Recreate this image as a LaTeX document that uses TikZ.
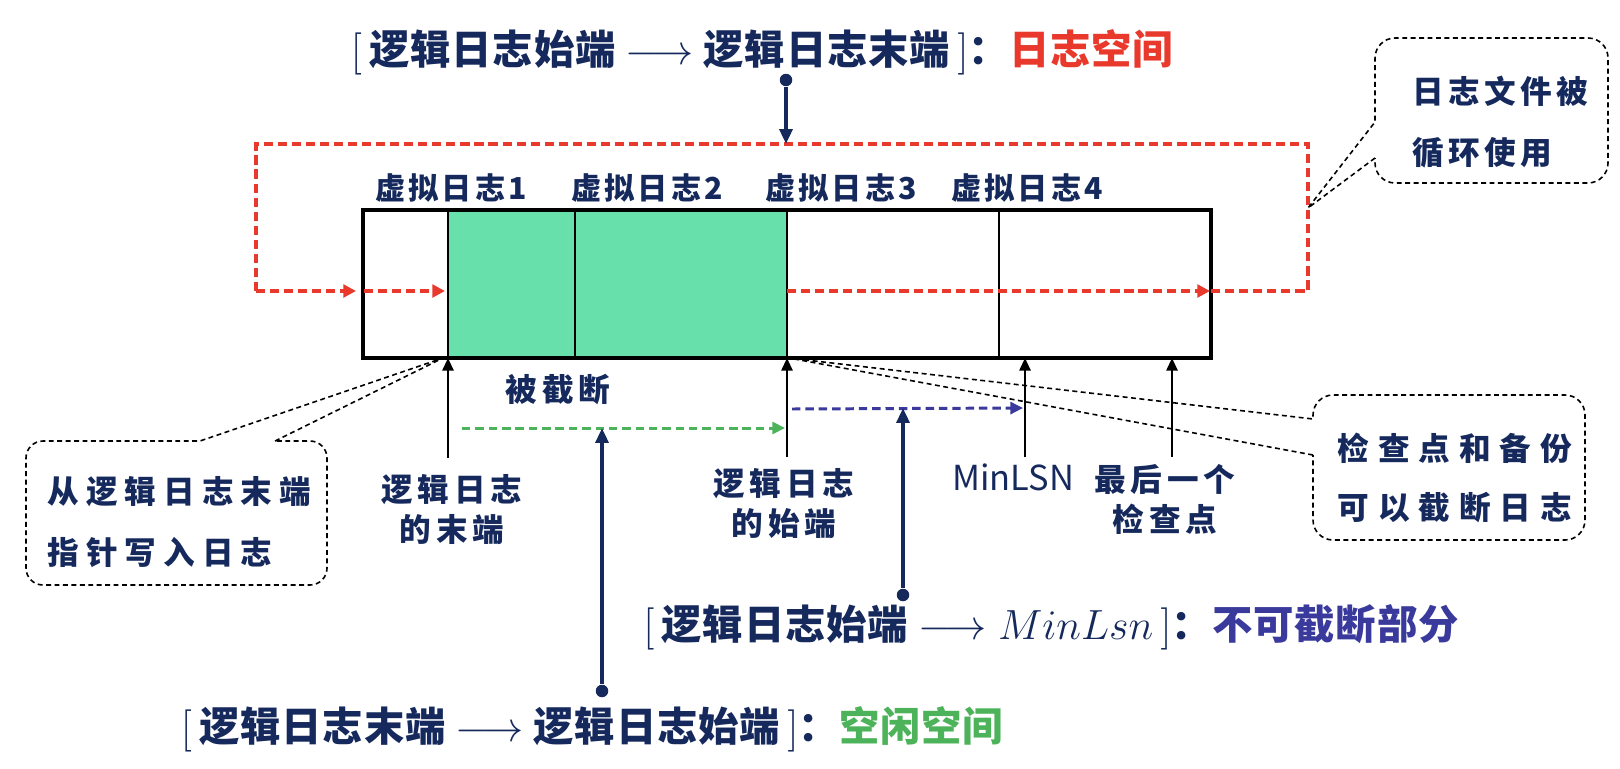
\documentclass[tikz,border=0pt]{standalone}
\usepackage{fontspec}
\setmainfont{Noto Sans CJK SC}
\usetikzlibrary{arrows.meta,positioning}
\definecolor{LogNavy}{HTML}{15295C}
\definecolor{LogRed}{HTML}{E8392C}
\definecolor{LogFill}{HTML}{68E0AC}
\definecolor{LogGreen}{HTML}{4DB35A}
\definecolor{LogIndigo}{HTML}{3A3A9C}

\begin{document}
\begin{tikzpicture}[
  every node/.style={text=LogNavy, inner sep=0pt},
  smalltext/.style={font=\bfseries\fontsize{9}{11.4}\selectfont\addfontfeature{LetterSpace=15}, align=center},
  calltext/.style={font=\bfseries\fontsize{9}{17.2}\selectfont\addfontfeature{LetterSpace=22}, align=left, anchor=west},
  rangetext/.style={font=\bfseries\fontsize{11.5}{14}\selectfont\addfontfeature{LetterSpace=2}},
  divider/.style={draw=black, line width=0.6pt},
  loopline/.style={draw=LogRed, line width=1pt, dash pattern=on 2.6pt off 1.4pt},
  looparrow/.style={loopline, -{Triangle[length=3.6pt,width=3.6pt]}},
  freearrow/.style={draw=LogGreen, line width=0.85pt, dash pattern=on 2.4pt off 1.4pt, -{Triangle[length=3.6pt,width=3.4pt]}},
  busyarrow/.style={draw=LogIndigo, line width=0.85pt, dash pattern=on 2.4pt off 1.4pt, -{Triangle[length=3.6pt,width=3.4pt]}},
  thinarrow/.style={draw=black, line width=0.6pt, -{Triangle[length=3.6pt,width=3.2pt]}},
  pin/.style={draw=LogNavy, line width=1.1pt, -{Triangle[length=4.2pt,width=3.6pt]}},
  pindot/.style={circle, fill=LogNavy, minimum size=0.125cm},
  callout/.style={draw=black, line width=0.45pt, dash pattern=on 1.4pt off 1pt},
]
\useasboundingbox (0,0) rectangle (16.2,-7.68);

% ============ log file strip ============
\fill[LogFill] (4.48,-2.10) rectangle (7.87,-3.58);
\foreach \x in {4.48,5.75,7.87,9.99}{
  \draw[divider] (\x,-2.10) -- (\x,-3.58);
}
\draw[line width=0.95pt] (3.63,-2.10) rectangle (12.11,-3.58);

\foreach \x/\k in {4.51/1,6.47/2,8.41/3,10.27/4}{
  \node[smalltext, font=\bfseries\fontsize{8.6}{10}\selectfont\addfontfeature{LetterSpace=10}] (vlog\k) at (\x,-1.88) {虚拟日志\k};
}

% points on the strip
\coordinate (tail) at (4.48,-3.58);
\coordinate (head) at (7.87,-3.58);
\coordinate (minlsn) at (10.25,-3.58);
\coordinate (ckpt) at (11.72,-3.58);
\coordinate (loopTop) at (7.86,-1.44);
\coordinate (loopRight) at (13.08,-2.08);

% ============ circular use (red loop) ============
\draw[loopline] (12.11,-2.91) -- (13.08,-2.91) -- (13.08,-1.44) -- (2.56,-1.44) -- (2.56,-2.91);
\draw[looparrow] (2.56,-2.91) -- (3.56,-2.91);
\draw[looparrow] (3.64,-2.91) -- (4.45,-2.91);
\draw[looparrow] (7.87,-2.91) -- (12.10,-2.91);

% ============ pointers below the strip ============
\node[smalltext] (trunc) at (5.58,-3.90) {被截断};

\node[smalltext, below=1.16cm of tail, xshift=0.04cm] (tailLbl) {逻辑日志\\的末端};
\node[smalltext, below=1.10cm of head, xshift=-0.03cm] (headLbl) {逻辑日志\\的始端};
\node[below=1.05cm of minlsn, xshift=-0.12cm, font=\fontsize{9.8}{12}\selectfont] (minLbl) {MinLSN};
\node[smalltext, below=1.06cm of ckpt, xshift=-0.07cm] (ckptLbl) {最后一个\\检查点};

\draw[thinarrow] (tail |- 0,-4.58) -- (tail);
\draw[thinarrow] (head |- 0,-4.57) -- (head);
\draw[thinarrow] (minlsn |- 0,-4.57) -- (minlsn);
\draw[thinarrow] (ckpt |- 0,-4.57) -- (ckpt);

% ranges
\coordinate (freeEnd) at (7.85,-4.28);
\coordinate (busyEnd) at (10.23,-4.08);
\draw[freearrow] (4.62,-4.28) -- (freeEnd);
\draw[busyarrow] (7.92,-4.09) -- (busyEnd);

% ============ range labels with pins ============
\node[rangetext] (spaceLbl) at (7.62,-0.52)
  {$[\,$逻辑日志始端 $\longrightarrow$ 逻辑日志末端$\,]$：\textcolor{LogRed}{日志空间}};
\node[pindot] (dotSpace) at (7.86,-0.80) {};
\draw[pin] (dotSpace) -- (loopTop);

\node[rangetext] (busyLbl) at (10.51,-6.27)
  {$[\,$逻辑日志始端 $\longrightarrow MinLsn\,]$：\textcolor{LogIndigo}{不可截断部分}};
\node[pindot] (dotBusy) at (9.03,-5.95) {};
\draw[pin] (dotBusy) -- (dotBusy |- busyEnd);

\node[rangetext] (freeLbl) at (5.92,-7.29)
  {$[\,$逻辑日志末端 $\longrightarrow$ 逻辑日志始端$\,]$：\textcolor{LogGreen}{空闲空间}};
\node[pindot] (dotFree) at (6.02,-6.91) {};
\draw[pin] (dotFree) -- (dotFree |- freeEnd);

% ============ callouts ============
% log file reused
\draw[callout] (13.75,-1.58) -- (loopRight) -- (13.75,-1.22)
  [rounded corners=0.2cm] -- (13.75,-0.38) -- (16.08,-0.38) -- (16.08,-1.83) -- (13.75,-1.83) -- (13.75,-1.58);
\node[calltext, font=\bfseries\fontsize{9}{17.2}\selectfont\addfontfeature{LetterSpace=14}] (cycleTxt) at (14.12,-1.22) {日志文件被\\循环使用};

% writing from the tail
\draw[callout] (2.75,-4.41) -- ([xshift=-0.05cm]tail) -- (2.00,-4.41)
  [rounded corners=0.17cm] -- (0.26,-4.41) -- (0.26,-5.85) -- (3.27,-5.85) -- (3.27,-4.41) -- (2.75,-4.41);
\node[calltext] (writeTxt) at (0.47,-5.22) {从逻辑日志末端\\指针写入日志};

% truncation
\draw[callout] (13.13,-4.55) -- ([xshift=0.02cm]head) -- (13.13,-4.19)
  [rounded corners=0.2cm] -- (13.13,-3.95) -- (15.85,-3.95) -- (15.85,-5.40) -- (13.13,-5.40) -- (13.13,-4.55);
\node[calltext, font=\bfseries\fontsize{9}{17}\selectfont\addfontfeature{LetterSpace=28}] (truncTxt) at (13.37,-4.78) {检查点和备份\\可以截断日志};

\end{tikzpicture}
\end{document}
